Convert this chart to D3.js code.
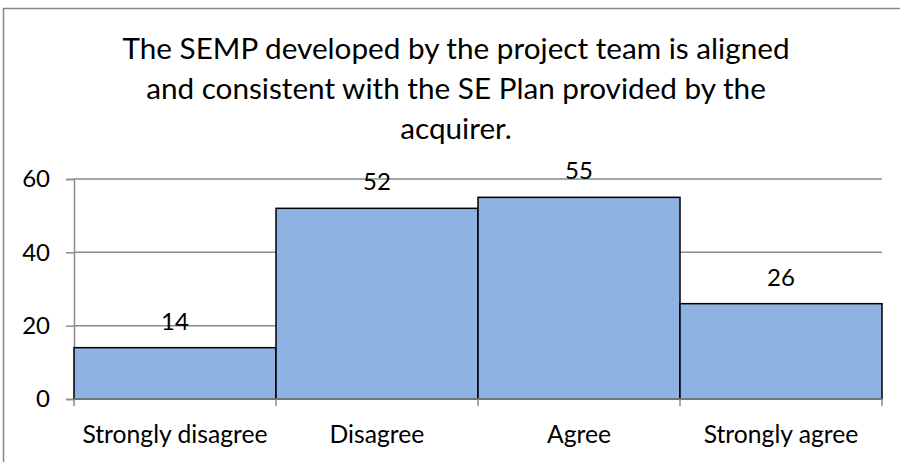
<!DOCTYPE html>
<html lang="en">
  <head>
    <meta charset="utf-8" />
    <title>SEMP alignment survey</title>
    <script src="https://cdnjs.cloudflare.com/ajax/libs/d3/7.8.5/d3.min.js"></script>
    <style>
      body {
        margin: 0;
        background: #ffffff;
      }
      svg text {
        font-family: "Lato", "Open Sans", sans-serif;
        fill: #000;
      }
    </style>
  </head>
  <body>
    <div id="chart"></div>
    <script>
      // chart data
      const titleLines = [
        "The SEMP developed by the project team is aligned",
        "and consistent with the SE Plan provided by the",
        "acquirer.",
      ];
      const categories = ["Strongly disagree", "Disagree", "Agree", "Strongly agree"];
      const values = [14, 52, 55, 26];
      const yTicks = [0, 20, 40, 60];

      const width = 900;
      const height = 462;
      const plot = { left: 74, right: 882, top: 179, bottom: 399 };

      const svg = d3
        .select("#chart")
        .append("svg")
        .attr("width", width)
        .attr("height", height);

      // outer chart border
      svg
        .append("rect")
        .attr("x", 3.5)
        .attr("y", 8.5)
        .attr("width", 900)
        .attr("height", 470)
        .attr("fill", "#fff")
        .attr("stroke", "#868686")
        .attr("stroke-width", 1.5);

      // title
      svg
        .append("g")
        .selectAll("text")
        .data(titleLines)
        .enter()
        .append("text")
        .attr("x", 456)
        .attr("y", (d, i) => 59 + i * 40)
        .attr("text-anchor", "middle")
        .style("font-size", "29.7px")
        .text((d) => d);

      const x = d3
        .scaleBand()
        .domain(categories)
        .range([plot.left, plot.right])
        .padding(0);

      const y = d3
        .scaleLinear()
        .domain([0, 60])
        .range([plot.bottom, plot.top]);

      // gridlines
      svg
        .append("g")
        .selectAll("line")
        .data(yTicks.filter((t) => t > 0))
        .enter()
        .append("line")
        .attr("x1", plot.left)
        .attr("x2", plot.right)
        .attr("y1", (d) => y(d))
        .attr("y2", (d) => y(d))
        .attr("stroke", "#8a8a8a")
        .attr("stroke-width", 1.5);

      // y axis
      const yAxis = svg
        .append("g")
        .attr("transform", `translate(${plot.left},0)`)
        .call(d3.axisLeft(y).tickValues(yTicks).tickSize(8).tickPadding(16));
      yAxis.select(".domain").attr("stroke", "#8a8a8a").attr("stroke-width", 1.5);
      yAxis.selectAll(".tick line").attr("stroke", "#8a8a8a").attr("stroke-width", 1.5);
      yAxis
        .selectAll(".tick text")
        .style("font-size", "24px")
        .style("font-family", "Lato, sans-serif")
        .attr("fill", "#000");

      // bars
      svg
        .append("g")
        .selectAll("rect")
        .data(values)
        .enter()
        .append("rect")
        .attr("x", (d, i) => x(categories[i]))
        .attr("y", (d) => y(d))
        .attr("width", x.bandwidth())
        .attr("height", (d) => y(0) - y(d))
        .attr("fill", "#8eb3e2")
        .attr("stroke", "#000")
        .attr("stroke-width", 1.5);

      // x axis line and boundary ticks
      const bounds = categories.map((c) => x(c)).concat([plot.right]);
      svg
        .append("line")
        .attr("x1", plot.left)
        .attr("x2", plot.right)
        .attr("y1", y(0))
        .attr("y2", y(0))
        .attr("stroke", "#8a8a8a")
        .attr("stroke-width", 1.5);
      svg
        .append("g")
        .selectAll("line")
        .data(bounds)
        .enter()
        .append("line")
        .attr("x1", (d) => d)
        .attr("x2", (d) => d)
        .attr("y1", y(0))
        .attr("y2", y(0) + 7)
        .attr("stroke", "#8a8a8a")
        .attr("stroke-width", 1.5);

      // category labels
      svg
        .append("g")
        .selectAll("text")
        .data(categories)
        .enter()
        .append("text")
        .attr("x", (d) => x(d) + x.bandwidth() / 2)
        .attr("y", 443)
        .attr("text-anchor", "middle")
        .style("font-size", "24.7px")
        .text((d) => d);

      // value labels
      svg
        .append("g")
        .selectAll("text")
        .data(values)
        .enter()
        .append("text")
        .attr("x", (d, i) => x(categories[i]) + x.bandwidth() / 2)
        .attr("y", (d) => y(d) - 18)
        .attr("text-anchor", "middle")
        .style("font-size", "24px")
        .text((d) => d);
    </script>
  </body>
</html>
